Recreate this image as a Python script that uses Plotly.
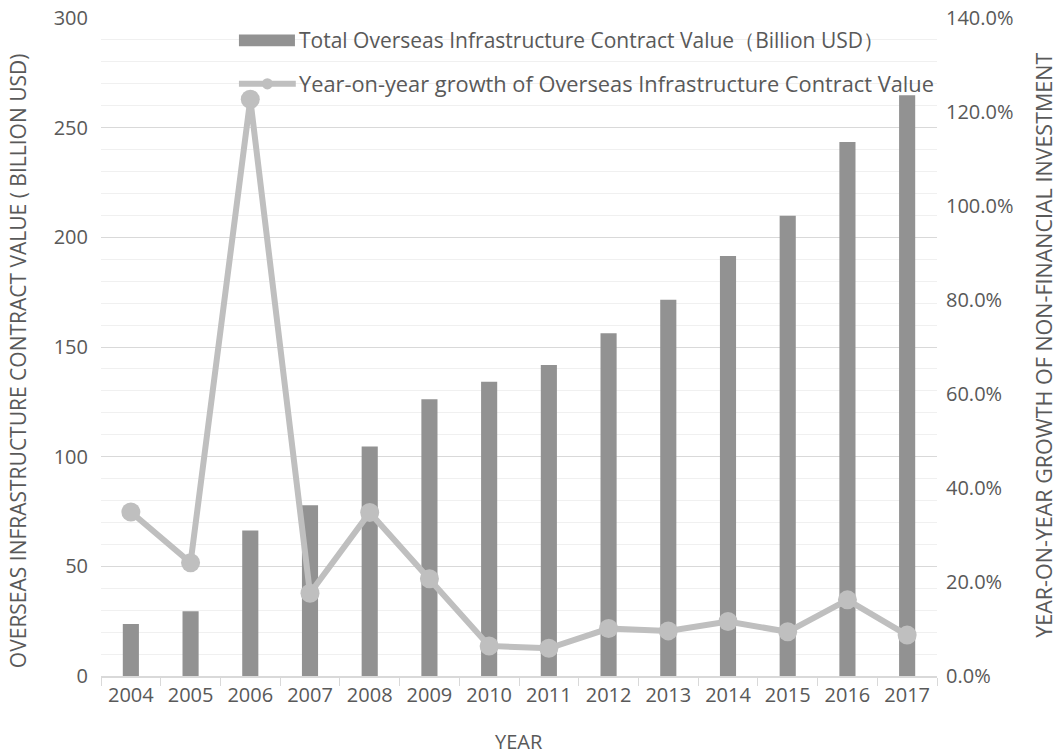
import plotly.graph_objects as go

# Data
years = ["2004", "2005", "2006", "2007", "2008", "2009", "2010",
         "2011", "2012", "2013", "2014", "2015", "2016", "2017"]
contract_value = [23.7, 29.5, 66.3, 77.9, 104.6, 126.2, 134.1,
                  141.8, 156.3, 171.5, 191.5, 209.8, 243.5, 264.8]
yoy_growth_pct = [34.9, 24.1, 122.7, 17.6, 34.8, 20.7, 6.4,
                  5.9, 10.1, 9.6, 11.6, 9.4, 16.2, 8.7]

bar_name = "Total Overseas Infrastructure Contract Value（Billion USD）"
line_name = "Year-on-year growth of Overseas Infrastructure Contract Value"
left_title = "OVERSEAS INFRASTRUCTURE CONTRACT VALUE ( BILLION USD)"
right_title = "YEAR-ON-YEAR GROWTH OF NON-FINANCIAL INVESTMENT"
x_title = "YEAR"

FONT = "Open Sans, sans-serif"
TEXT = "#595959"
BAR_C = "#929292"
LINE_C = "#bfbfbf"

fig = go.Figure()
fig.add_trace(go.Bar(
    x=years, y=contract_value, name=bar_name,
    marker=dict(color=BAR_C, line=dict(width=0)),
    yaxis="y", showlegend=False,
))
fig.add_trace(go.Scatter(
    x=years, y=yoy_growth_pct, name=line_name, mode="lines+markers",
    line=dict(color=LINE_C, width=6),
    marker=dict(color=LINE_C, size=19),
    yaxis="y2", showlegend=False,
))

# Legend drawn inside the plot area
legend_shapes = [
    dict(type="rect", xref="paper", yref="paper",
         x0=0.165, x1=0.232, y0=0.957, y1=0.975,
         fillcolor=BAR_C, line=dict(width=0)),
    dict(type="line", xref="paper", yref="paper",
         x0=0.165, x1=0.233, y0=0.9, y1=0.9,
         line=dict(color=LINE_C, width=6)),
    dict(type="circle", xref="paper", yref="paper",
         x0=0.1925, x1=0.2055, y0=0.8915, y1=0.9085,
         fillcolor=LINE_C, line=dict(width=0)),
]
annots = [
    dict(text=bar_name, xref="paper", yref="paper", x=0.234, y=0.966,
         xanchor="left", yanchor="middle", showarrow=False,
         font=dict(family=FONT, size=21, color=TEXT)),
    dict(text=line_name, xref="paper", yref="paper", x=0.234, y=0.9,
         xanchor="left", yanchor="middle", showarrow=False,
         font=dict(family=FONT, size=21.8, color=TEXT)),
    # axis titles
    dict(text=left_title, xref="paper", yref="paper", x=-0.0993, y=0.48,
         xanchor="center", yanchor="middle", textangle=-90, showarrow=False,
         font=dict(family=FONT, size=21, color=TEXT)),
    dict(text=right_title, xref="paper", yref="paper", x=1.1265, y=0.503,
         xanchor="center", yanchor="middle", textangle=-90, showarrow=False,
         font=dict(family=FONT, size=21.5, color=TEXT)),
    dict(text=x_title, xref="paper", yref="paper", x=0.5, y=-0.1003,
         xanchor="center", yanchor="middle", showarrow=False,
         font=dict(family=FONT, size=20, color=TEXT)),
]

fig.update_layout(
    width=1057, height=756,
    margin=dict(l=101, r=120, t=18, b=80),
    paper_bgcolor="white", plot_bgcolor="white",
    font=dict(family=FONT, size=20, color=TEXT),
    bargap=0.73,
    hovermode=False,
    shapes=legend_shapes,
    annotations=annots,
    xaxis=dict(
        type="category", automargin=False,
        range=[-0.5, len(years) - 0.5],
        showline=True, linecolor="#d9d9d9", linewidth=1.5,
        ticks="outside", tickson="boundaries", ticklen=8, tickcolor="#d9d9d9",
        showgrid=False,
        tickfont=dict(family=FONT, size=20, color=TEXT),
    ),
    yaxis=dict(
        range=[0, 300], dtick=50, tick0=0, automargin=False,
        showgrid=True, gridcolor="#d9d9d9", gridwidth=1.2,
        minor=dict(dtick=10, showgrid=True, gridcolor="#f0f0f0", gridwidth=1.2),
        showline=False, zeroline=False, ticks="",
        ticklabelstandoff=12,
        tickfont=dict(family=FONT, size=20, color=TEXT),
    ),
    yaxis2=dict(
        overlaying="y", side="right", automargin=False,
        range=[0, 140], dtick=20, tick0=0,
        ticksuffix="%", tickformat=".1f",
        showgrid=False, zeroline=False, showline=False, ticks="",
        ticklabelstandoff=8,
        tickfont=dict(family=FONT, size=20, color=TEXT),
    ),
)

fig.write_html("out.html")
